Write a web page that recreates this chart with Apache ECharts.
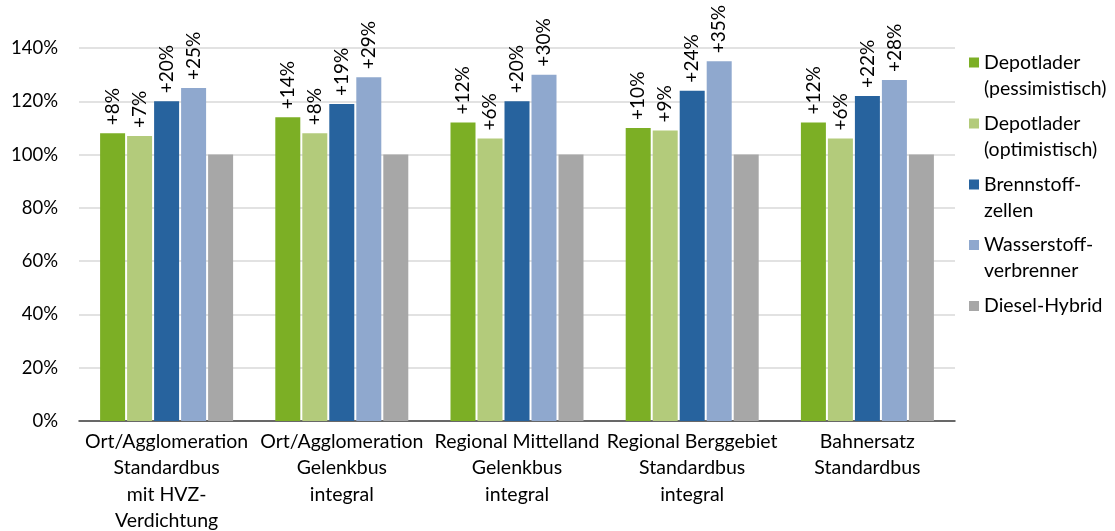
<!DOCTYPE html>
<html>
<head>
<meta charset="utf-8">
<style>
  html, body { margin: 0; padding: 0; background: #fff; }
  #chart { width: 1115px; height: 531px; }
</style>
<script src="https://cdn.jsdelivr.net/npm/echarts@6/dist/echarts.min.js"></script>
</head>
<body>
<div id="chart"></div>
<script>
// Vehicle categories (x axis)
const categories = [
  'Ort/Agglomeration\nStandardbus\nmit HVZ-\nVerdichtung',
  'Ort/Agglomeration\nGelenkbus\nintegral',
  'Regional Mittelland\nGelenkbus\nintegral',
  'Regional Berggebiet\nStandardbus\nintegral',
  'Bahnersatz\nStandardbus'
];

// Series names and their legend text
const seriesNames = ['Depotlader (pessimistisch)', 'Depotlader (optimistisch)', 'Brennstoffzellen', 'Wasserstoffverbrenner', 'Diesel-Hybrid'];
const legendTexts = ['Depotlader\n(pessimistisch)', 'Depotlader\n(optimistisch)', 'Brennstoff-\nzellen', 'Wasserstoff-\nverbrenner', 'Diesel-Hybrid'];
const seriesColors = ['#7CAF25', '#B3CB7B', '#27639E', '#8FA8CE', '#A7A7A7'];

// Costs relative to Diesel-Hybrid (= 100 %)
const depotPessimistisch = [108, 114, 112, 110, 112];
const depotOptimistisch  = [107, 108, 106, 109, 106];
const brennstoffzellen   = [120, 119, 120, 124, 122];
const wasserstoff        = [125, 129, 130, 135, 128];
const dieselHybrid       = [100, 100, 100, 100, 100];
const seriesValues = [depotPessimistisch, depotOptimistisch, brennstoffzellen, wasserstoff, dieselHybrid];

// Which series carry the "+x%" labels
const showLabel = [true, true, true, true, false];

// Y axis ticks
const yMin = 0, yMax = 140, yStep = 20;

// Vertical centre of each legend entry's first line
const legendLineY = [62.5, 123.5, 184.5, 245, 306];

const FONT = 'Lato';
const chart = echarts.init(document.getElementById('chart'), null, { renderer: 'canvas' });

const series = seriesNames.map((name, i) => ({
  name: name,
  type: 'bar',
  data: seriesValues[i],
  barWidth: 25,
  barGap: '8%',
  itemStyle: { color: seriesColors[i] },
  emphasis: { disabled: true },
  label: {
    show: showLabel[i],
    position: 'top',
    rotate: 90,
    align: 'left',
    verticalAlign: 'middle',
    distance: 8,
    fontFamily: FONT,
    fontSize: 19,
    color: '#000',
    formatter: p => '+' + Math.round(p.value - 100) + '%'
  }
}));

// One legend block per entry so the swatch sits beside the first text line
const legends = seriesNames.map((name, i) => {
  const twoLines = legendTexts[i].indexOf('\n') >= 0;
  return {
    data: [name],
    orient: 'vertical',
    left: 969,
    top: twoLines ? legendLineY[i] - 39 : legendLineY[i] - 13,
    padding: 0,
    icon: 'rect',
    itemWidth: 10,
    itemHeight: 10,
    selectedMode: false,
    textStyle: { fontFamily: FONT, fontSize: 19.5, color: '#000', lineHeight: 26 },
    formatter: () => (twoLines ? '\n' : '') + legendTexts[i]
  };
});

chart.setOption({
  animation: false,
  backgroundColor: '#fff',
  grid: { left: 79, right: 160, top: 48, bottom: 110, outerBoundsMode: 'none' },
  legend: legends,
  xAxis: {
    type: 'category',
    data: categories,
    axisTick: { show: false },
    axisLine: { lineStyle: { color: '#404040', width: 1.5 } },
    axisLabel: {
      interval: 0,
      margin: 7,
      fontFamily: FONT,
      fontSize: 19.5,
      color: '#000',
      lineHeight: 26.5,
      align: 'center'
    }
  },
  yAxis: {
    type: 'value',
    min: yMin,
    max: yMax,
    interval: yStep,
    axisLine: { show: false },
    axisTick: { show: false },
    splitLine: { lineStyle: { color: '#D9D9D9', width: 1.5 } },
    axisLabel: {
      margin: 21,
      fontFamily: FONT,
      fontSize: 18.5,
      color: '#000',
      formatter: '{value}%'
    }
  },
  series: series
});
</script>
</body>
</html>
